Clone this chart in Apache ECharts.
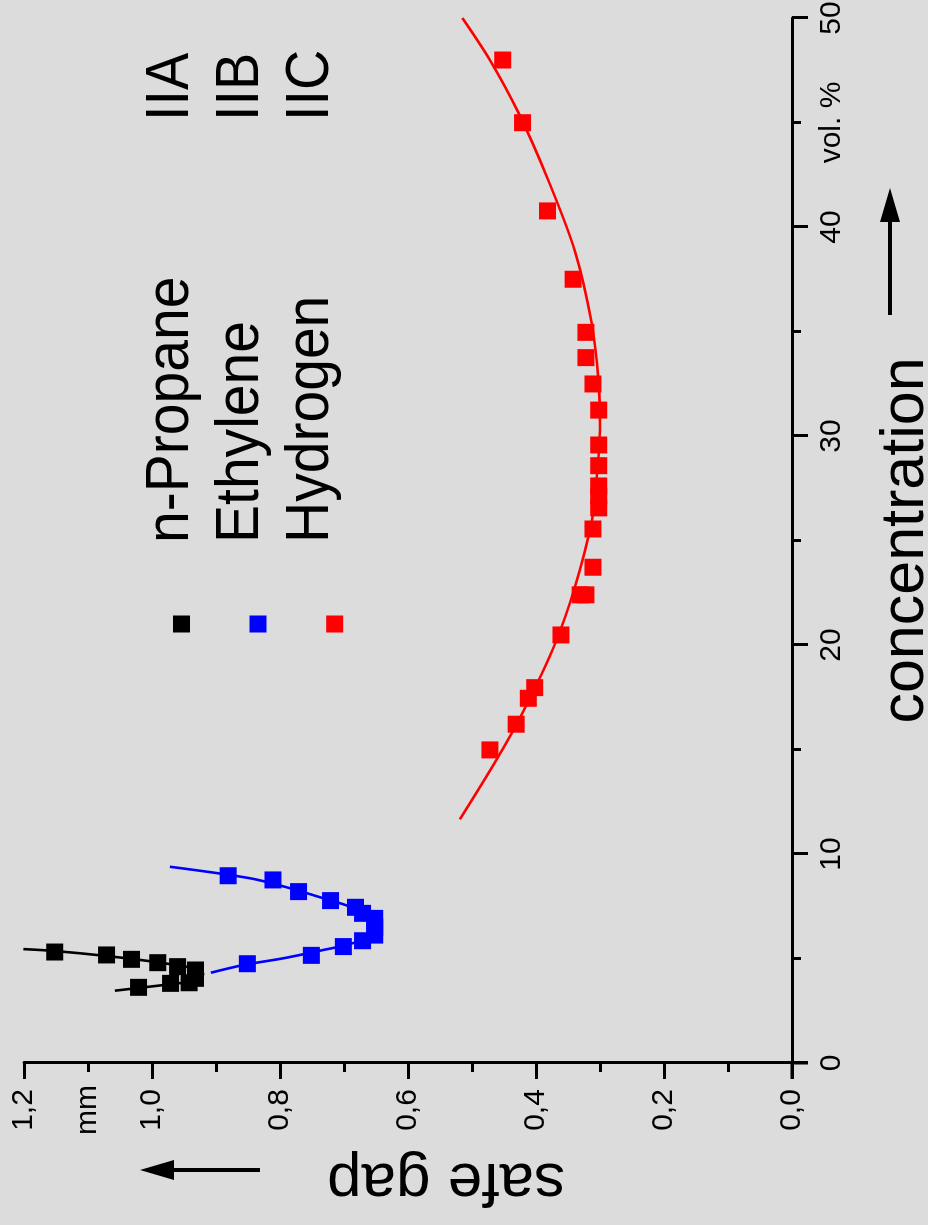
<!DOCTYPE html>
<html><head><meta charset="utf-8">
<script src="https://cdn.jsdelivr.net/npm/echarts@6/dist/echarts.min.js"></script>
<style>
html,body{margin:0;padding:0;width:928px;height:1225px;overflow:hidden;background:#dcdcdc;}
#chart{position:absolute;left:0;top:0;width:1225px;height:928px;transform-origin:0 0;transform:translateY(1225px) rotate(-90deg);}
</style></head><body><div id="chart"></div>
<script>
// concentration (vol. %) and safe gap (mm)
const propaneConc = [5.31, 5.17, 4.96, 4.80, 4.61, 4.45, 4.05, 3.84, 3.81, 3.62];
const propaneGap  = [1.152, 1.071, 1.032, 0.991, 0.960, 0.932, 0.932, 0.942, 0.971, 1.021];
const propaneFitConc = [3.46, 3.73, 3.89, 4.05, 4.25, 4.45, 4.53, 4.82, 5.12, 5.36, 5.45];
const propaneFitGap  = [1.058, 0.982, 0.941, 0.925, 0.920, 0.926, 0.932, 0.991, 1.071, 1.152, 1.201];

const ethyleneConc = [8.96, 8.76, 8.20, 7.77, 7.45, 7.16, 6.92, 6.50, 6.12, 5.85, 5.57, 5.15, 4.75];
const ethyleneGap  = [0.881, 0.811, 0.771, 0.721, 0.682, 0.671, 0.652, 0.652, 0.652, 0.671, 0.701, 0.751, 0.851];
const ethyleneFitConc = [4.32, 4.69, 5.01, 5.41, 5.69, 6.01, 6.53, 7.00, 7.48, 7.88, 8.36, 8.84, 9.39];
const ethyleneFitGap  = [0.908, 0.857, 0.795, 0.732, 0.691, 0.665, 0.657, 0.665, 0.691, 0.732, 0.784, 0.847, 0.972];

const hydrogenConc = [14.98, 16.21, 17.45, 17.96, 20.48, 22.4, 22.4, 23.72, 25.55, 26.56, 27.13, 27.61, 28.58, 29.57, 31.24, 32.49, 33.75, 34.96, 37.50, 40.77, 44.99, 47.99];
const hydrogenGap  = [0.472, 0.431, 0.412, 0.402, 0.361, 0.331, 0.322, 0.311, 0.311, 0.302, 0.302, 0.302, 0.302, 0.302, 0.302, 0.311, 0.322, 0.322, 0.342, 0.382, 0.421, 0.452];
const hydrogenFitConc = [11.66, 14.5, 16.81, 19.92, 22.79, 25.98, 28.05, 30.45, 32.68, 35.39, 38.83, 42.25, 45.44, 47.99, 50.0];
const hydrogenFitGap  = [0.519, 0.462, 0.420, 0.372, 0.339, 0.3125, 0.305, 0.300, 0.3026, 0.313, 0.339, 0.381, 0.427, 0.472, 0.515];

const seriesNames = ['n-Propane', 'Ethylene', 'Hydrogen'];
const groupNames = ['IIA', 'IIB', 'IIC'];
const seriesColors = ['#000000', '#0000ff', '#ff0000'];
const concUnit = 'vol. %', concUnitAt = 45;
const gapUnit = 'mm', gapUnitAt = 1.1;
const concName = 'concentration', gapName = 'safe gap';

const FONT = "'Liberation Sans', Arial, Helvetica, sans-serif";
const zip = (a, b) => a.map((v, i) => [v, b[i]]);

const chart = echarts.init(document.getElementById('chart'), null, {renderer: 'canvas'});

function lineSeries(conc, gap, color) {
  return {type: 'line', data: zip(conc, gap), smooth: 0.3, showSymbol: false, symbol: 'none',
    lineStyle: {color: color, width: 2.6}, z: 2, silent: true, clip: false};
}
function scatterSeries(name, conc, gap, color) {
  return {type: 'scatter', name: name, data: zip(conc, gap), symbol: 'rect', symbolSize: 17,
    itemStyle: {color: color, opacity: 1}, z: 3, silent: true};
}

const axisCommon = {
  axisLine: {show: true, onZero: false, lineStyle: {color: '#000', width: 3}},
  axisTick: {show: true, inside: false, length: 16, lineStyle: {color: '#000', width: 3}},
  minorTick: {show: true, splitNumber: 2, length: 9, lineStyle: {color: '#000', width: 3}},
  splitLine: {show: false}, minorSplitLine: {show: false}
};

const legendGraphics = [];
const markerY = [181.5, 258, 334.7];
const textBase = [190, 260, 330];
const LFS = 62;
seriesNames.forEach((n, i) => {
  legendGraphics.push({type: 'rect', shape: {x: 601 - 8.5, y: markerY[i] - 8.5, width: 17, height: 17},
    style: {fill: seriesColors[i]}, z: 10});
  legendGraphics.push({type: 'text', x: 682, y: textBase[i] - 19, scaleX: 0.92,
    style: {text: n, fontSize: LFS, fontFamily: FONT, fill: '#000', align: 'left', verticalAlign: 'middle'}, z: 10});
  legendGraphics.push({type: 'text', x: 1104, y: textBase[i] - 19, scaleX: 0.9,
    style: {text: groupNames[i], fontSize: LFS, fontFamily: FONT, fill: '#000', align: 'left', verticalAlign: 'middle'}, z: 10});
});

const option = {
  animation: false,
  backgroundColor: '#dcdcdc',
  textStyle: {fontFamily: FONT},
  grid: {left: 162, right: 18, top: 24, bottom: 136, containLabel: false, outerBoundsMode: 'none'},
  xAxis: [
    Object.assign({}, axisCommon, {
      type: 'value', min: 0, max: 50, interval: 10, position: 'bottom',
      axisLabel: {color: '#000', fontSize: 30, fontFamily: FONT, margin: 25, formatter: v => String(v)},
      name: concName, nameLocation: 'middle', nameGap: 84,
      nameTextStyle: {color: '#000', fontSize: 61, fontFamily: FONT}
    }),
    {
      type: 'value', min: 0, max: 50, interval: 5, position: 'bottom',
      axisLine: {show: false}, axisTick: {show: false}, splitLine: {show: false},
      axisLabel: {color: '#000', fontSize: 30, fontFamily: FONT, margin: 25,
        formatter: v => Math.abs(v - concUnitAt) < 1e-9 ? concUnit : ''}
    }
  ],
  yAxis: [
    Object.assign({}, axisCommon, {
      type: 'value', min: 0, max: 1.2, interval: 0.2, position: 'left',
      axisLabel: {color: '#000', fontSize: 30, fontFamily: FONT, margin: 47, align: 'center',
        formatter: v => v.toFixed(1).replace('.', ',')}
    }),
    {
      type: 'value', min: 0, max: 1.2, interval: 0.1, position: 'left',
      axisLine: {show: false}, axisTick: {show: false}, splitLine: {show: false},
      axisLabel: {color: '#000', fontSize: 30, fontFamily: FONT, margin: 47, align: 'center',
        formatter: v => Math.abs(v - gapUnitAt) < 1e-9 ? gapUnit : ''}
    }
  ],
  graphic: legendGraphics.concat([
    {type: 'text', x: 44, y: 446, rotation: Math.PI / 2,
      style: {text: gapName, fontSize: 62, fontFamily: FONT, fill: '#000', align: 'center', verticalAlign: 'middle'}},
    {type: 'line', shape: {x1: 910, y1: 890, x2: 1010, y2: 890}, style: {stroke: '#000', lineWidth: 4}},
    {type: 'polygon', shape: {points: [[1037, 890], [1003, 880], [1003, 900]]}, style: {fill: '#000'}},
    {type: 'line', shape: {x1: 55, y1: 260, x2: 55, y2: 165}, style: {stroke: '#000', lineWidth: 4}},
    {type: 'polygon', shape: {points: [[55, 140], [45, 174], [65, 174]]}, style: {fill: '#000'}}
  ]),
  series: [
    lineSeries(propaneFitConc, propaneFitGap, seriesColors[0]),
    lineSeries(ethyleneFitConc, ethyleneFitGap, seriesColors[1]),
    lineSeries(hydrogenFitConc, hydrogenFitGap, seriesColors[2]),
    scatterSeries(seriesNames[0], propaneConc, propaneGap, seriesColors[0]),
    scatterSeries(seriesNames[1], ethyleneConc, ethyleneGap, seriesColors[1]),
    scatterSeries(seriesNames[2], hydrogenConc, hydrogenGap, seriesColors[2])
  ]
};
chart.setOption(option);

// extend axis lines past the origin by the tick length, as in the reference
const o = chart.convertToPixel({xAxisIndex: 0, yAxisIndex: 0}, [0, 0]);
chart.setOption({graphic: [
  {id: 'extY', type: 'line', shape: {x1: o[0], y1: o[1], x2: o[0], y2: o[1] + 16}, style: {stroke: '#000', lineWidth: 3}},
  {id: 'extX', type: 'line', shape: {x1: o[0], y1: o[1], x2: o[0] - 16, y2: o[1]}, style: {stroke: '#000', lineWidth: 3}}
]});
</script></body></html>
